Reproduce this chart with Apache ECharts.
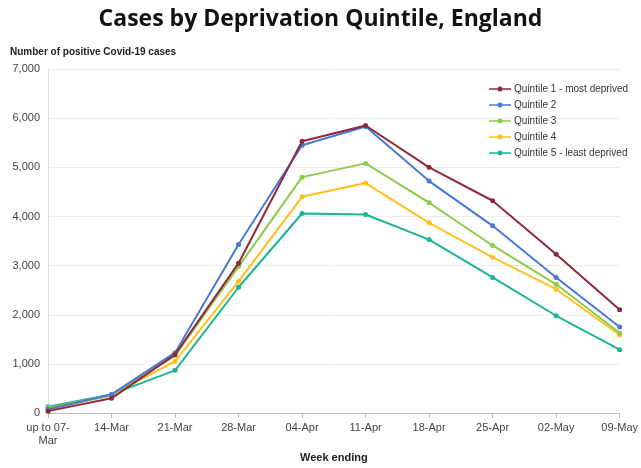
<!DOCTYPE html>
<html>
<head>
<meta charset="utf-8">
<script src="https://cdn.jsdelivr.net/npm/echarts@6/dist/echarts.min.js"></script>
<style>
  html, body { margin: 0; padding: 0; background: #fff; }
  #chart { width: 641px; height: 468px; }
</style>
</head>
<body>
<div id="chart"></div>
<script>
// Week-ending categories
const weeks = ['up to 07-\nMar', '14-Mar', '21-Mar', '28-Mar', '04-Apr', '11-Apr', '18-Apr', '25-Apr', '02-May', '09-May'];

// Weekly positive cases by deprivation quintile
const quintile1 = [40, 300, 1190, 3050, 5530, 5850, 5000, 4320, 3230, 2100];
const quintile2 = [80, 380, 1230, 3430, 5450, 5830, 4720, 3810, 2760, 1750];
const quintile3 = [110, 360, 1170, 2980, 4800, 5080, 4280, 3410, 2620, 1630];
const quintile4 = [70, 370, 1050, 2680, 4400, 4680, 3870, 3170, 2520, 1590];
const quintile5 = [130, 380, 870, 2560, 4060, 4040, 3530, 2760, 1980, 1290];

const seriesNames = ['Quintile 1 - most deprived', 'Quintile 2', 'Quintile 3', 'Quintile 4', 'Quintile 5 - least deprived'];
const seriesData = [quintile1, quintile2, quintile3, quintile4, quintile5];
const colors = ['#8E2A3B', '#4A78D8', '#8CCB4A', '#FFC01E', '#1DB394'];

// Legend key: a short line with a filled dot in the middle
const legendIcon = 'path://M0,2.2L22,2.2L22,3.8L0,3.8Z M8.5,3A2.5,2.5,0,1,1,13.5,3A2.5,2.5,0,1,1,8.5,3Z M0,0L0.01,0Z M0,6L0.01,6Z';

const chart = echarts.init(document.getElementById('chart'), null, { renderer: 'canvas' });

chart.setOption({
  animation: false,
  color: colors,
  title: [
    {
      text: 'Cases by Deprivation Quintile, England',
      left: 'center',
      top: 3,
      textStyle: { fontFamily: 'Open Sans', fontWeight: 'bold', fontSize: 23, color: '#111' }
    },
    {
      text: 'Number of positive Covid-19 cases',
      left: 5,
      top: 42,
      textStyle: { fontFamily: 'Liberation Sans', fontWeight: 'bold', fontSize: 10, color: '#222' }
    }
  ],
  legend: {
    orient: 'vertical',
    right: 8,
    top: 79,
    itemGap: 6,
    itemWidth: 22,
    itemHeight: 6,
    icon: legendIcon,
    textStyle: { fontFamily: 'Liberation Sans', fontSize: 10, color: '#333', padding: [0, 0, 0, -2] },
    data: seriesNames
  },
  grid: { left: 48, right: 19, top: 69, bottom: 46 },
  xAxis: {
    type: 'category',
    data: weeks,
    boundaryGap: false,
    name: 'Week ending',
    nameLocation: 'middle',
    nameGap: 32,
    nameTextStyle: { fontFamily: 'Liberation Sans', fontWeight: 'bold', fontSize: 11, color: '#222' },
    axisLine: { lineStyle: { color: '#bbb' } },
    axisTick: { show: true, alignWithLabel: true, lineStyle: { color: '#bbb' } },
    axisLabel: { fontFamily: 'Liberation Sans', fontSize: 11, color: '#444', interval: 0, lineHeight: 13 }
  },
  yAxis: {
    type: 'value',
    min: 0,
    max: 7000,
    interval: 1000,
    axisLine: { show: true, lineStyle: { color: '#ddd' } },
    splitLine: { lineStyle: { color: '#ececec' } },
    axisLabel: {
      fontFamily: 'Liberation Sans', fontSize: 11, color: '#444', margin: 8,
      formatter: v => v.toLocaleString('en-US')
    }
  },
  series: seriesNames.map((name, i) => ({
    name,
    type: 'line',
    data: seriesData[i],
    symbol: 'circle',
    symbolSize: 5,
    lineStyle: { width: 2 },
    z: 10 - i
  }))
});
</script>
</body>
</html>
